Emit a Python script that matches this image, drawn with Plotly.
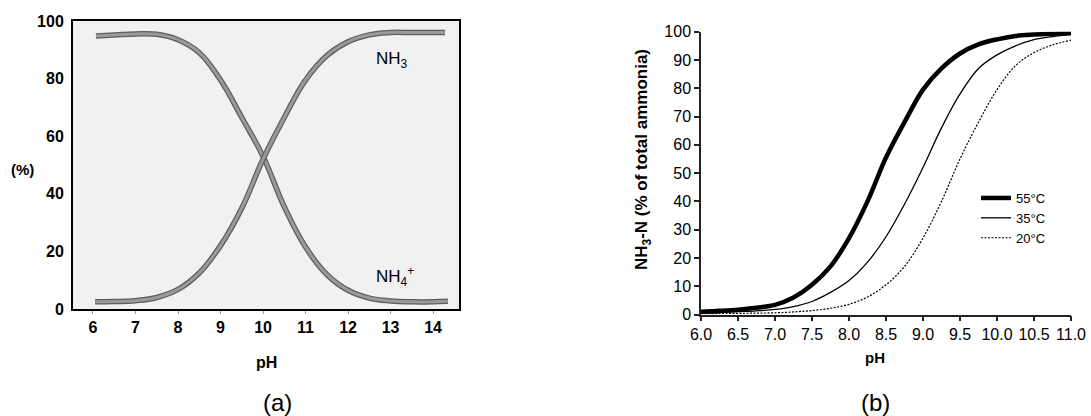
import plotly.graph_objects as go

# ---------- Panel (a): NH3 / NH4+ distribution vs pH ----------
ph_nh4 = [6.07, 6.5, 7.0, 7.5, 8.0, 8.5, 9.0, 9.5, 10.0, 10.5, 11.0, 11.5, 12.0, 12.5, 13.0, 13.5, 14.0, 14.35]
nh4 = [94.8, 95.1, 95.5, 95.4, 93.5, 89.0, 79.5, 66.5, 53.0, 35.5, 21.5, 12.0, 6.5, 3.8, 2.8, 2.5, 2.5, 2.7]

ph_nh3 = [6.05, 6.5, 7.0, 7.5, 8.0, 8.5, 9.0, 9.5, 10.0, 10.5, 11.0, 11.5, 12.0, 12.5, 13.0, 13.5, 14.28]
nh3 = [2.5, 2.6, 2.9, 4.0, 6.8, 12.5, 22.0, 35.0, 52.0, 66.5, 79.5, 88.0, 92.8, 95.2, 96.0, 96.0, 96.0]

a_xticks = [6, 7, 8, 9, 10, 11, 12, 13, 14]
a_yticks = [0, 20, 40, 60, 80, 100]

# ---------- Panel (b): NH3-N fraction vs pH at three temperatures ----------
ph_b = [6.0, 6.25, 6.5, 6.75, 7.0, 7.25, 7.5, 7.75, 8.0, 8.25, 8.5, 8.75, 9.0, 9.25, 9.5, 9.75, 10.0, 10.25, 10.5, 10.75, 11.0]
t55 = [1.0, 1.3, 1.7, 2.4, 3.4, 6.0, 10.5, 17.0, 27.0, 40.0, 55.5, 68.0, 79.5, 87.0, 92.3, 95.5, 97.3, 98.5, 99.0, 99.3, 99.5]
t35 = [0.5, 0.7, 1.0, 1.3, 1.8, 2.8, 4.6, 7.8, 12.0, 18.5, 27.5, 39.0, 52.0, 66.0, 78.0, 87.0, 91.8, 95.0, 97.2, 98.3, 99.0]
t20 = [0.3, 0.35, 0.4, 0.5, 0.6, 0.9, 1.4, 2.2, 3.6, 6.2, 10.5, 17.0, 27.0, 40.0, 55.0, 68.0, 79.5, 88.0, 92.6, 95.3, 97.0]

b_xticks = [6.0, 6.5, 7.0, 7.5, 8.0, 8.5, 9.0, 9.5, 10.0, 10.5, 11.0]
b_yticks = [0, 10, 20, 30, 40, 50, 60, 70, 80, 90, 100]
series_names = ["55°C", "35°C", "20°C"]

W, H = 1091, 416
FONT = "Liberation Sans, Arial, Helvetica, sans-serif"

fig = go.Figure()

# Panel (a) curves: darker outline underneath, lighter gray on top
for xs, ys in [(ph_nh4, nh4), (ph_nh3, nh3)]:
    fig.add_trace(go.Scatter(x=xs, y=ys, mode="lines", line=dict(color="#5e5e5e", width=5.5, shape="spline", smoothing=1.2),
                             xaxis="x", yaxis="y", showlegend=False, hoverinfo="skip"))
    fig.add_trace(go.Scatter(x=xs, y=ys, mode="lines", line=dict(color="#9a9a9a", width=3, shape="spline", smoothing=1.2),
                             xaxis="x", yaxis="y", showlegend=False, hoverinfo="skip"))

# Panel (b) curves
fig.add_trace(go.Scatter(x=ph_b, y=t55, mode="lines", name=series_names[0],
                         line=dict(color="black", width=4.5, shape="spline"), xaxis="x2", yaxis="y2"))
fig.add_trace(go.Scatter(x=ph_b, y=t35, mode="lines", name=series_names[1],
                         line=dict(color="black", width=1.3, shape="spline"), xaxis="x2", yaxis="y2"))
fig.add_trace(go.Scatter(x=ph_b, y=t20, mode="lines", name=series_names[2],
                         line=dict(color="black", width=1.2, dash="2px,1.5px", shape="spline"), xaxis="x2", yaxis="y2"))

def px_x(p):
    return p / W

def px_y(p):
    return 1 - p / H

fig.update_layout(
    width=W, height=H,
    margin=dict(l=0, r=0, t=0, b=0, autoexpand=False),
    paper_bgcolor="white",
    plot_bgcolor="white",
    font=dict(family=FONT, color="black"),
    showlegend=True,
    legend=dict(x=px_x(976), y=px_y(183), xanchor="left", yanchor="top",
                font=dict(size=13, family=FONT), bgcolor="rgba(0,0,0,0)",
                tracegroupgap=0),
    xaxis=dict(domain=[px_x(73), px_x(459)], range=[5.53, 14.61], anchor="y", automargin=False,
               tickvals=a_xticks, ticktext=[str(v) for v in a_xticks],
               showgrid=False, zeroline=False, showline=True, linecolor="black", linewidth=2, mirror=True,
               ticks="outside", ticklen=3, tickcolor="#999", tickwidth=1,
               tickfont=dict(size=16, weight="bold", family=FONT)),
    yaxis=dict(domain=[px_y(309), px_y(21)], range=[0, 100], anchor="x", automargin=False,
               tickvals=a_yticks, showgrid=False, zeroline=False, showline=True, linecolor="black",
               linewidth=2, mirror=True, ticks="", ticklabelstandoff=4,
               tickfont=dict(size=16, weight="bold", family=FONT)),
    xaxis2=dict(domain=[px_x(701), px_x(1071)], range=[6, 11], anchor="y2", automargin=False,
                tickvals=b_xticks, ticktext=["%.1f" % v for v in b_xticks],
                showgrid=False, zeroline=False, showline=True, linecolor="#222", linewidth=1.5,
                ticks="outside", ticklen=5, tickcolor="#222", tickwidth=1.5,
                tickfont=dict(size=16, family=FONT)),
    yaxis2=dict(domain=[px_y(314.5), px_y(31.7)], range=[0, 100], anchor="x2", automargin=False,
                tickvals=b_yticks, showgrid=False, zeroline=False, showline=True, linecolor="#222",
                linewidth=1.5, ticks="outside", ticklen=5, tickcolor="#222", tickwidth=1.5,
                tickfont=dict(size=16, family=FONT)),
)

# Panel (a) background (light gray fill inside the box)
fig.add_shape(type="rect", xref="x domain", yref="y domain", x0=0, x1=1, y0=0, y1=1,
              fillcolor="#f1f1f1", line=dict(width=0), layer="below")

annotations = [
    dict(text="(%)", x=px_x(22), y=px_y(169), font=dict(size=15, weight="bold")),
    dict(text="pH", x=px_x(266), y=px_y(362), font=dict(size=16, weight="bold")),
    dict(text="(a)", x=px_x(277), y=px_y(402), font=dict(size=24)),
    dict(text="pH", x=px_x(875), y=px_y(357), font=dict(size=15, weight="bold")),
    dict(text="(b)", x=px_x(875), y=px_y(402), font=dict(size=24)),
    dict(text="NH<sub>3</sub>-N (% of total ammonia)", x=px_x(643), y=px_y(160), textangle=-90,
         font=dict(size=17, weight="bold")),
    dict(text="NH<sub>3</sub>", x=px_x(392), y=px_y(60), font=dict(size=17)),
    dict(text="NH<sub>4</sub><sup>+</sup>", x=px_x(395), y=px_y(276), font=dict(size=17)),
]
for a in annotations:
    a.update(xref="paper", yref="paper", showarrow=False, xanchor="center", yanchor="middle")
    a["font"].setdefault("family", FONT)
    a["font"].setdefault("color", "black")
    fig.add_annotation(**a)

fig.write_html(
    "out.html",
    config={"displayModeBar": False},
    post_script="document.body.style.margin='0';document.body.style.overflow='hidden';",
)
